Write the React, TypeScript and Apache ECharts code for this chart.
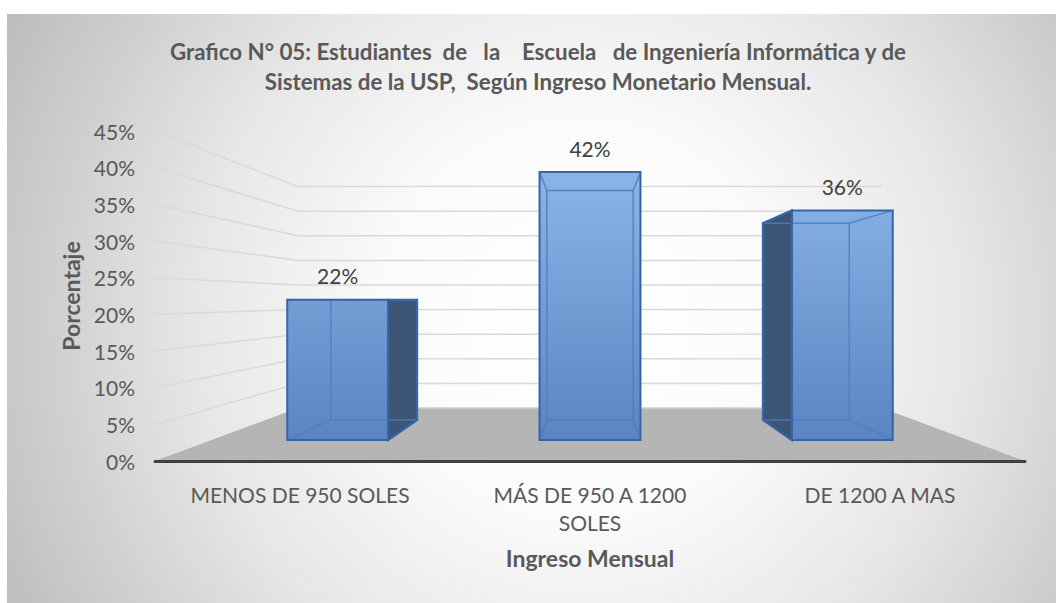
import React, { useEffect, useRef } from "react";
import * as echarts from "echarts";

const TITLE_TEXT =
  "Grafico N° 05: Estudiantes  de   la    Escuela   de Ingeniería Informática y de\nSistemas de la USP,  Según Ingreso Monetario Mensual.";
const CATEGORIES = ["MENOS DE 950 SOLES", "MÁS DE 950 A 1200\nSOLES", "DE 1200 A MAS"];
const VALUES = [0.22, 0.42, 0.36];
const Y_TICKS = [0, 0.05, 0.1, 0.15, 0.2, 0.25, 0.3, 0.35, 0.4, 0.45];
const Y_MIN = 0;
const Y_MAX = 0.45;
const Y_STEP = 0.05;
const X_NAME = "Ingreso Mensual";
const Y_NAME = "Porcentaje";

// perspective settings (layout, not data)
const HORIZON_VALUE = 0.2196;
const S_BAR_FRONT = 0.87;
const S_BAR_BACK = 0.745;
const S_WALL = 0.671;
const BAR_FRACTION = 0.4;

const FONT = "Lato, 'Open Sans', sans-serif";
const TEXT_COLOR = "#595959";

const pct = (v: number) => Math.round(v * 100) + "%";

export default function App() {
  const ref = useRef<HTMLDivElement>(null);
  useEffect(() => {
    if (!ref.current) return;
    const chart = echarts.init(ref.current, null, { renderer: "svg" });

    const frameRender = (params: any, api: any) => {
      const cs = params.coordSys;
      const vpx = cs.x + cs.width / 2;
      const hy = api.coord([0, HORIZON_VALUE])[1];
      const proj = (x: number, y: number, s: number) => [vpx + (x - vpx) * s, hy + (y - hy) * s];
      const gx0 = cs.x;
      const gx1 = cs.x + cs.width;
      const y0 = api.coord([0, 0])[1];
      const children: any[] = [];
      children.push({
        type: "polygon",
        shape: { points: [[gx0, y0], [gx1, y0], proj(gx1, y0, S_WALL), proj(gx0, y0, S_WALL)] },
        style: { fill: "#b5b5b5" },
      });
      Y_TICKS.forEach((v) => {
        const yv = api.coord([0, v])[1];
        if (v === 0) {
          const a = proj(gx0, yv, S_WALL);
          const b = proj(gx1, yv, S_WALL);
          children.push({
            type: "line",
            shape: { x1: a[0], y1: a[1], x2: b[0], y2: b[1] },
            style: { stroke: "#d0d0d0", lineWidth: 1.5 },
          });
          return;
        }
        children.push({
          type: "polyline",
          shape: { points: [[gx0, yv], proj(gx0, yv, S_WALL), proj(gx1, yv, S_WALL)] },
          style: { stroke: "#d9d9d9", lineWidth: 1.5, fill: null },
        });
      });
      return { type: "group", children };
    };

    const barRender = (params: any, api: any) => {
      const cs = params.coordSys;
      const vpx = cs.x + cs.width / 2;
      const hy = api.coord([0, HORIZON_VALUE])[1];
      const proj = (x: number, y: number, s: number) => [vpx + (x - vpx) * s, hy + (y - hy) * s];
      const idx = api.value(0);
      const val = api.value(1);
      const base = api.coord([idx, 0]);
      const top = api.coord([idx, val]);
      const bw = (api.size([1, 0])[0] * BAR_FRACTION) / 2;
      const xl = base[0] - bw;
      const xr = base[0] + bw;
      const y0 = base[1];
      const y1 = top[1];
      const F = {
        bl: proj(xl, y0, S_BAR_FRONT),
        br: proj(xr, y0, S_BAR_FRONT),
        tl: proj(xl, y1, S_BAR_FRONT),
        tr: proj(xr, y1, S_BAR_FRONT),
      };
      const B = {
        bl: proj(xl, y0, S_BAR_BACK),
        br: proj(xr, y0, S_BAR_BACK),
        tl: proj(xl, y1, S_BAR_BACK),
        tr: proj(xr, y1, S_BAR_BACK),
      };
      const edge = "#3565a5";
      const inner = "rgba(75,125,195,0.85)";
      const children: any[] = [];
      const frontFill = new echarts.graphic.LinearGradient(0, 160, 0, 445, [
        { offset: 0, color: "#8db6eb" },
        { offset: 1, color: "#5a84bf" },
      ], true);
      let side: any = null;
      if (xr < vpx) {
        side = [F.tr, B.tr, B.br, F.br];
      } else if (xl > vpx) {
        side = [F.tl, B.tl, B.bl, F.bl];
      }
      if (side) {
        children.push({
          type: "polygon",
          shape: { points: side },
          style: { fill: "#3d5574", stroke: edge, lineWidth: 1.5 },
        });
      }
      if (y1 > hy) {
        children.push({
          type: "polygon",
          shape: { points: [F.tl, F.tr, B.tr, B.tl] },
          style: { fill: "#7fa8de", stroke: edge, lineWidth: 1.5 },
        });
      }
      children.push({
        type: "polygon",
        shape: { points: [F.tl, F.tr, F.br, F.bl] },
        style: { fill: frontFill },
      });
      const lines = [
        [B.tl, B.tr],
        [B.tr, B.br],
        [B.br, B.bl],
        [B.bl, B.tl],
        [F.tl, B.tl],
        [F.tr, B.tr],
        [F.bl, B.bl],
        [F.br, B.br],
      ];
      lines.forEach((l) => {
        children.push({
          type: "line",
          shape: { x1: l[0][0], y1: l[0][1], x2: l[1][0], y2: l[1][1] },
          style: { stroke: inner, lineWidth: 1.5 },
        });
      });
      if (side) {
        children.push({
          type: "polygon",
          shape: { points: side },
          style: { fill: null, stroke: edge, lineWidth: 2 },
        });
      }
      children.push({
        type: "polygon",
        shape: { points: [F.tl, F.tr, F.br, F.bl] },
        style: { fill: null, stroke: edge, lineWidth: 2 },
      });
      children.push({
        type: "text",
        style: {
          text: pct(val),
          x: (F.tl[0] + F.tr[0]) / 2,
          y: F.tl[1] - 24,
          align: "center",
          verticalAlign: "middle",
          fontFamily: FONT,
          fontSize: 21,
          fill: "#404040",
        },
      });
      return { type: "group", children };
    };

    chart.setOption({
      animation: false,
      backgroundColor: "#ffffff",
      graphic: [
        {
          type: "rect",
          z: -100,
          silent: true,
          shape: { x: 7, y: 14, width: 1049, height: 589 },
          style: {
            fill: new echarts.graphic.RadialGradient(580, 320, 650, [
              { offset: 0, color: "#ffffff" },
              { offset: 0.3, color: "#fbfbfb" },
              { offset: 0.6, color: "#e6e6e6" },
              { offset: 1, color: "#bcbcbc" },
            ], true),
          },
        },
      ],
      title: {
        text: TITLE_TEXT,
        left: 533,
        top: 31,
        textAlign: "center",
        textStyle: {
          fontFamily: FONT,
          fontWeight: "bold",
          fontSize: 22.3,
          lineHeight: 30,
          color: TEXT_COLOR,
        },
      },
      grid: { left: 155, right: 31, top: 131, bottom: 142 },
      xAxis: {
        type: "category",
        data: CATEGORIES,
        z: 5,
        axisLine: { show: true, lineStyle: { color: "#404040", width: 3 } },
        axisTick: { show: false },
        axisLabel: {
          margin: 19,
          fontFamily: FONT,
          fontSize: 21,
          lineHeight: 28,
          color: TEXT_COLOR,
          interval: 0,
        },
        name: X_NAME,
        nameLocation: "middle",
        nameGap: 85,
        nameTextStyle: { fontFamily: FONT, fontWeight: "bold", fontSize: 23, color: TEXT_COLOR },
      },
      yAxis: {
        type: "value",
        min: Y_MIN,
        max: Y_MAX,
        interval: Y_STEP,
        axisLine: { show: false },
        axisTick: { show: false },
        splitLine: { show: false },
        axisLabel: {
          margin: 20,
          fontFamily: FONT,
          fontSize: 21,
          color: TEXT_COLOR,
          formatter: (v: number) => pct(v),
        },
        name: Y_NAME,
        nameLocation: "middle",
        nameGap: 71,
        nameTextStyle: { fontFamily: FONT, fontWeight: "bold", fontSize: 23, color: TEXT_COLOR },
      },
      series: [
        {
          type: "custom",
          z: 1,
          silent: true,
          renderItem: frameRender,
          data: [[0, 0]],
        },
        {
          type: "custom",
          z: 2,
          renderItem: barRender,
          data: VALUES.map((v, i) => [i, v]),
        },
      ],
    });
    return () => chart.dispose();
  }, []);
  return (
    <div
      ref={ref}
      style={{ position: "fixed", left: 0, top: 0, width: 1056, height: 603 }}
    />
  );
}
